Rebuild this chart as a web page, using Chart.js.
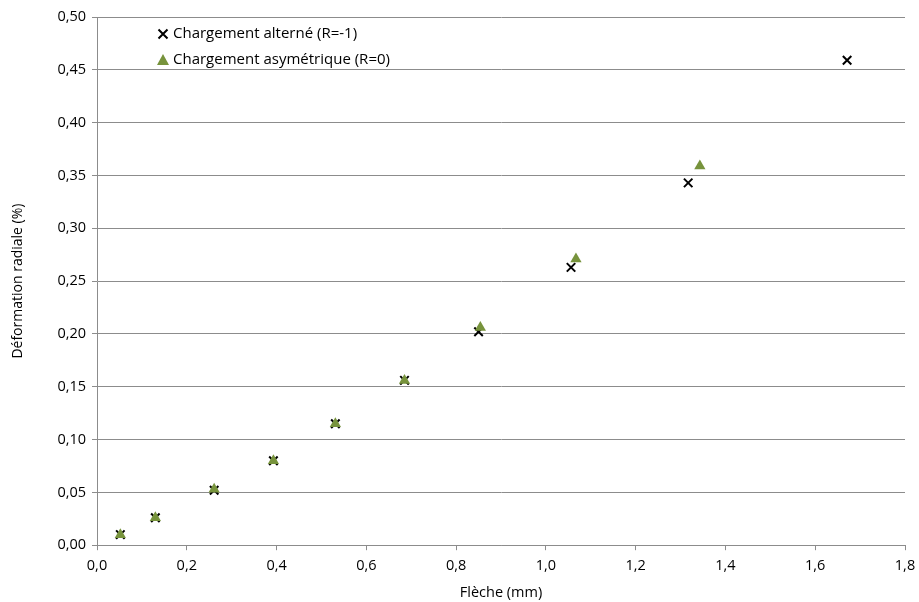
<!DOCTYPE html>
<html>
<head>
<meta charset="utf-8">
<script src="https://cdn.jsdelivr.net/npm/chart.js@4"></script>
<style>
  html, body { margin: 0; padding: 0; background: #fff; }
  #wrap { width: 919px; height: 602px; }
</style>
</head>
<body>
<div id="wrap"><canvas id="chart" width="919" height="602"></canvas></div>
<script>
// Flèche (mm) / déformation radiale (%)
const altX = [0.052, 0.130, 0.261, 0.393, 0.531, 0.685, 0.850, 1.056, 1.317, 1.671];
const altY = [0.010, 0.026, 0.052, 0.080, 0.115, 0.156, 0.202, 0.263, 0.343, 0.459];
const asymX = [0.052, 0.130, 0.261, 0.393, 0.531, 0.685, 0.854, 1.067, 1.343];
const asymY = [0.010, 0.026, 0.053, 0.080, 0.115, 0.156, 0.206, 0.271, 0.359];
const seriesLabels = ['Chargement alterné (R=-1)', 'Chargement asymétrique (R=0)'];

const FONT = '"Open Sans", "Liberation Sans", sans-serif';
const GRID = '#8c8c8c';
const GREEN = '#77933c';

function pts(xs, ys) {
  return xs.map((x, i) => ({ x: x, y: ys[i] }));
}

// legend drawn inside the plot area, top left
const innerLegend = {
  id: 'innerLegend',
  afterDraw(chart) {
    const ctx = chart.ctx;
    const x0 = 163, y0 = 34, gap = 26;
    ctx.save();
    // cross
    ctx.strokeStyle = '#000';
    ctx.lineWidth = 2;
    ctx.beginPath();
    ctx.moveTo(x0 - 4.5, y0 - 4.5); ctx.lineTo(x0 + 4.5, y0 + 4.5);
    ctx.moveTo(x0 + 4.5, y0 - 4.5); ctx.lineTo(x0 - 4.5, y0 + 4.5);
    ctx.stroke();
    // triangle
    ctx.fillStyle = GREEN;
    ctx.beginPath();
    ctx.moveTo(x0, y0 + gap - 6);
    ctx.lineTo(x0 + 6, y0 + gap + 5);
    ctx.lineTo(x0 - 6, y0 + gap + 5);
    ctx.closePath();
    ctx.fill();
    ctx.fillStyle = '#000';
    ctx.font = '15px ' + FONT;
    ctx.textBaseline = 'middle';
    ctx.fillText(seriesLabels[0], x0 + 10, y0);
    ctx.fillText(seriesLabels[1], x0 + 10, y0 + gap);
    ctx.restore();
  }
};

new Chart(document.getElementById('chart').getContext('2d'), {
  type: 'scatter',
  data: {
    datasets: [
      {
        label: seriesLabels[0],
        data: pts(altX, altY),
        pointStyle: 'crossRot',
        pointRadius: 6,
        pointBorderWidth: 2,
        borderColor: '#000',
        backgroundColor: '#000',
        order: 1
      },
      {
        label: seriesLabels[1],
        data: pts(asymX, asymY),
        pointStyle: 'triangle',
        pointRadius: 6.5,
        pointBorderWidth: 0,
        borderColor: GREEN,
        backgroundColor: GREEN,
        order: 0
      }
    ]
  },
  options: {
    responsive: false,
    animation: false,
    layout: { padding: { left: 10, right: 14, top: 17, bottom: 0 } },
    plugins: {
      legend: { display: false },
      tooltip: { enabled: false }
    },
    scales: {
      x: {
        type: 'linear',
        min: 0,
        max: 1.8,
        afterFit(scale) { scale.paddingRight = 0; },
        ticks: {
          stepSize: 0.2,
          color: '#000',
          font: { family: FONT, size: 14.5 },
          padding: 7,
          callback: v => v.toFixed(1).replace('.', ',')
        },
        grid: { drawOnChartArea: false, drawTicks: true, tickLength: 5, color: GRID },
        border: { color: GRID, width: 1 },
        title: {
          display: true,
          text: 'Flèche (mm)',
          color: '#000',
          font: { family: FONT, size: 14.5 },
          padding: { top: 3, bottom: 0 }
        }
      },
      y: {
        type: 'linear',
        min: 0,
        max: 0.5,
        afterFit(scale) { scale.width = 87; },
        ticks: {
          stepSize: 0.05,
          color: '#000',
          font: { family: FONT, size: 14.5 },
          padding: 6,
          callback: v => v.toFixed(2).replace('.', ',')
        },
        grid: { color: GRID, tickLength: 5, drawTicks: true },
        border: { color: GRID, width: 1 },
        title: {
          display: true,
          text: 'Déformation radiale (%)',
          color: '#000',
          font: { family: FONT, size: 14 },
          padding: { top: 0, bottom: 4 }
        }
      }
    }
  },
  plugins: [innerLegend]
});
</script>
</body>
</html>
